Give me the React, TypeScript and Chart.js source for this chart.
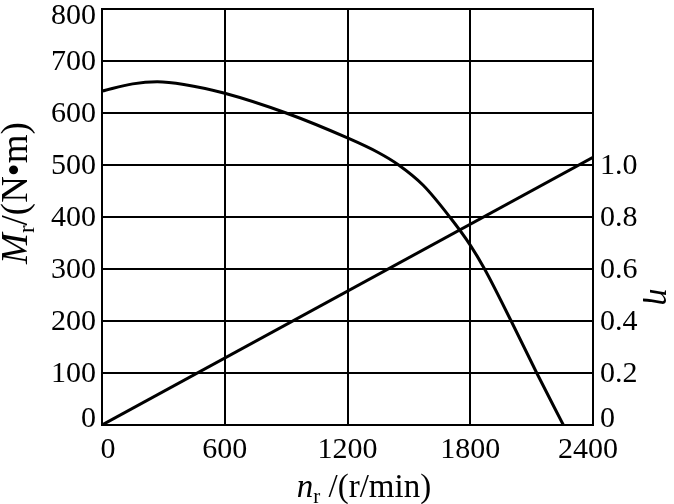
import React, { useEffect, useRef } from 'react';
import { Chart, registerables } from 'chart.js';
Chart.register(...registerables);

// Speed n_r (r/min) vs torque M_r (N·m)
const torqueSpeed = [0, 150, 270, 400, 600, 900, 1200, 1350, 1450, 1570, 1700, 1800, 1870, 2000, 2125, 2255];
const torqueValues = [642, 656, 660, 655, 638, 600, 552, 524, 500, 461, 400, 346, 300, 200, 100, 0];
// Speed vs efficiency η
const effSpeed = [0, 2400];
const effValues = [0, 1.03];

const FONT = "'Liberation Serif', 'Times New Roman', serif";
const TICK_FONT = `30px ${FONT}`;

type Part = { text: string; size: number; italic?: boolean; dy?: number };

function drawRich(ctx: CanvasRenderingContext2D, parts: Part[], cx: number, cy: number, rot: number) {
  ctx.save();
  ctx.translate(cx, cy);
  ctx.rotate(rot);
  ctx.textBaseline = 'alphabetic';
  ctx.textAlign = 'left';
  let total = 0;
  const widths = parts.map((p) => {
    ctx.font = `${p.italic ? 'italic ' : ''}${p.size}px ${FONT}`;
    const w = ctx.measureText(p.text).width;
    total += w;
    return w;
  });
  let x = -total / 2;
  parts.forEach((p, i) => {
    ctx.font = `${p.italic ? 'italic ' : ''}${p.size}px ${FONT}`;
    ctx.fillText(p.text, x, p.dy || 0);
    x += widths[i];
  });
  ctx.restore();
}

const labelPlugin = {
  id: 'axisLabels',
  afterDraw(chart: any) {
    const ctx = chart.ctx as CanvasRenderingContext2D;
    const area = chart.chartArea;
    ctx.save();
    ctx.fillStyle = '#000';
    ctx.font = TICK_FONT;

    // left y tick labels
    const sy = chart.scales.y;
    ctx.textAlign = 'right';
    ctx.textBaseline = 'middle';
    sy.ticks.forEach((t: any) => {
      const lab = sy.options.ticks.callback(t.value);
      if (!lab) return;
      const y = Math.min(Math.max(sy.getPixelForValue(t.value), area.top + 6), area.bottom - 7);
      ctx.fillText(lab, area.left - 6, y + 1);
    });
    // right y tick labels
    const sr = chart.scales.y1;
    ctx.textAlign = 'left';
    sr.ticks.forEach((t: any) => {
      const lab = sr.options.ticks.callback(t.value);
      if (!lab) return;
      const y = Math.min(Math.max(sr.getPixelForValue(t.value), area.top + 6), area.bottom - 7);
      ctx.fillText(lab, area.right + 7, y + 1);
    });
    // x tick labels
    const sx = chart.scales.x;
    ctx.textAlign = 'center';
    ctx.textBaseline = 'middle';
    sx.ticks.forEach((t: any) => {
      const lab = sx.options.ticks.callback(t.value);
      const x = Math.min(Math.max(sx.getPixelForValue(t.value), area.left + 6), area.right - 5);
      ctx.fillText(lab, x, area.bottom + 25);
    });

    // axis titles
    drawRich(
      ctx,
      [
        { text: 'n', size: 33, italic: true },
        { text: 'r', size: 21, dy: 6 },
        { text: ' /(r/min)', size: 33 },
      ],
      364,
      497,
      0
    );
    drawRich(
      ctx,
      [
        { text: 'M', size: 37, italic: true },
        { text: 'r', size: 23, dy: 7 },
        { text: '/(N\u2022m)', size: 37 },
      ],
      27,
      193,
      -Math.PI / 2
    );
    drawRich(ctx, [{ text: '\u03B7', size: 34, italic: true }], 650, 297, Math.PI / 2);
    ctx.restore();
  },
};

const fitY = (w: number) => (s: any) => {
  s.width = w;
  s.paddingTop = 0;
  s.paddingBottom = 0;
};

const HIDDEN = 'rgba(0,0,0,0)';

export default function App() {
  const ref = useRef<HTMLCanvasElement | null>(null);
  useEffect(() => {
    if (!ref.current) return;
    const tickFont = { family: FONT, size: 30 };
    const chart = new Chart(ref.current, {
      type: 'line',
      data: {
        datasets: [
          {
            data: torqueSpeed.map((x, i) => ({ x, y: torqueValues[i] })),
            yAxisID: 'y',
            borderColor: '#000',
            borderWidth: 3,
            pointRadius: 0,
            cubicInterpolationMode: 'monotone',
            fill: false,
          },
          {
            data: effSpeed.map((x, i) => ({ x, y: effValues[i] })),
            yAxisID: 'y1',
            borderColor: '#000',
            borderWidth: 3,
            pointRadius: 0,
            tension: 0,
            fill: false,
          },
        ],
      },
      options: {
        responsive: false,
        devicePixelRatio: 1,
        animation: false,
        layout: { padding: { top: 9, left: 0, right: 0, bottom: 0 }, autoPadding: false },
        plugins: { legend: { display: false }, tooltip: { enabled: false } },
        scales: {
          x: {
            type: 'linear',
            min: 0,
            max: 2400,
            ticks: {
              stepSize: 600,
              color: HIDDEN,
              font: tickFont,
              padding: 8,
              maxRotation: 0,
              autoSkip: false,
              callback: (v: any) => String(v),
            },
            grid: { color: '#000', lineWidth: 2, drawTicks: false },
            border: { color: '#000', width: 2 },
            afterFit: (s: any) => {
              s.height = 79;
              s.paddingLeft = 0;
              s.paddingRight = 0;
            },
          },
          y: {
            type: 'linear',
            position: 'left',
            min: 0,
            max: 800,
            ticks: {
              stepSize: 100,
              color: HIDDEN,
              font: tickFont,
              padding: 6,
              callback: (v: any) => String(v),
            },
            grid: { color: '#000', lineWidth: 2, drawTicks: false },
            border: { color: '#000', width: 2 },
            afterFit: fitY(102),
          },
          y1: {
            type: 'linear',
            position: 'right',
            min: 0,
            max: 1.6,
            ticks: {
              stepSize: 0.2,
              color: HIDDEN,
              font: tickFont,
              padding: 7,
              callback: (v: any) => {
                const n = Number(v);
                if (n > 1.0001) return '';
                return Math.abs(n) < 1e-9 ? '0' : n.toFixed(1);
              },
            },
            grid: { display: false, drawTicks: false },
            border: { color: '#000', width: 2 },
            afterFit: fitY(81),
          },
        },
      } as any,
      plugins: [labelPlugin],
    });
    return () => chart.destroy();
  }, []);
  return (
    <div style={{ position: 'fixed', left: 0, top: 0, width: 674, height: 504, background: '#fff' }}>
      <canvas ref={ref} width={674} height={504} style={{ display: 'block' }} />
    </div>
  );
}
